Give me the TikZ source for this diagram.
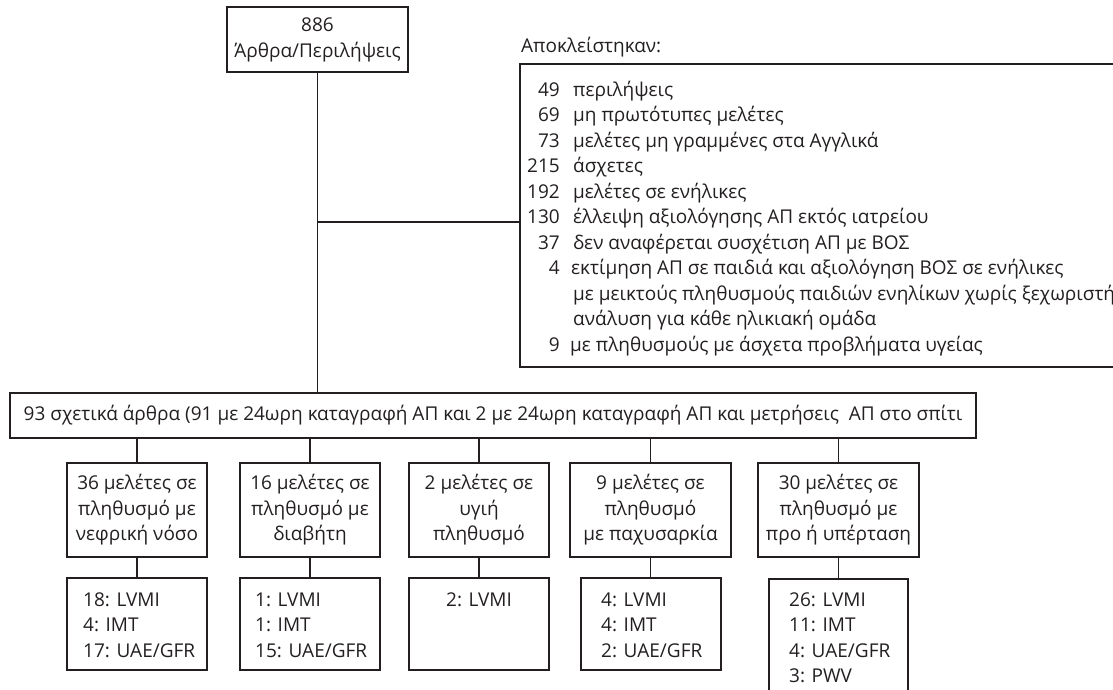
\documentclass[tikz,border=0pt]{standalone}
\usepackage{fontspec}
\setmainfont{Open Sans}
\definecolor{ink}{HTML}{231F20}
\newcommand\fsz{\fontsize{19}{25.5}\selectfont}
\begin{document}
\begin{tikzpicture}[x=1pt,y=-1pt,
  box/.style={draw=ink, line width=1.6pt, inner sep=0pt, text=ink, font=\fsz},
  conn/.style={draw=ink, line width=1.6pt},
  txt/.style={inner sep=0pt, text=ink, font=\fsz}]
\useasboundingbox (0,0) rectangle (1113,690);
\clip (0,0) rectangle (1113,690);
% top
\node[box, minimum width=181, minimum height=65] (top) at (317.5,39.5)
  {\begin{tabular}{@{}c@{}}886\\Άρθρα/Περιλήψεις\end{tabular}};
% exclusions
\node[txt, anchor=west] (exlab) at (521,47) {Αποκλείστηκαν:};
\node[box, anchor=north west, minimum width=620, minimum height=303] (excl) at (519,63) {};
\node[txt, anchor=north east] (exnum) at (560,78) {\begin{tabular}{@{}r@{}}
49\\69\\73\\215\\192\\130\\37\\4\\ \\ \\9\end{tabular}};
\node[txt, anchor=north west] (exlist) at (573,78) {\begin{tabular}{@{}l@{}}
περιλήψεις\\
μη πρωτότυπες μελέτες\\
μελέτες μη γραμμένες στα Αγγλικά\\
άσχετες\\
μελέτες σε ενήλικες\\
έλλειψη αξιολόγησης ΑΠ εκτός ιατρείου\\
δεν αναφέρεται συσχέτιση ΑΠ με ΒΟΣ\\
\hspace{-2pt}εκτίμηση ΑΠ σε παιδιά και αξιολόγηση ΒΟΣ σε ενήλικες\\
με μεικτούς πληθυσμούς παιδιών ενηλίκων χωρίς ξεχωριστή\\
ανάλυση για κάθε ηλικιακή ομάδα\\
\hspace{-3pt}με πληθυσμούς με άσχετα προβλήματα υγείας
\end{tabular}};
% main
\node[box, minimum width=966, minimum height=45] (main) at (493,415.5)
  {93 σχετικά άρθρα (91 με 24ωρη καταγραφή ΑΠ και 2 με 24ωρη καταγραφή ΑΠ και μετρήσεις\ \ ΑΠ στο σπίτι};
\coordinate (j) at (317.5,222);
\draw[conn] (top.south) -- (top.south |- main.north);
\draw[conn] (j) -- (j -| excl.west);
% row 1
\node[box, minimum width=140, minimum height=94] (b1) at (137,510)
  {\begin{tabular}{@{}c@{}}36 μελέτες σε\\πληθυσμό με\\νεφρική νόσο\end{tabular}};
\node[box, minimum width=140, minimum height=94] (b2) at (310,510)
  {\begin{tabular}{@{}c@{}}16 μελέτες σε\\πληθυσμό με\\διαβήτη\end{tabular}};
\node[box, minimum width=140, minimum height=94] (b3) at (479,510)
  {\begin{tabular}{@{}c@{}}2 μελέτες σε\\υγιή\\πληθυσμό\end{tabular}};
\node[box, minimum width=161, minimum height=94] (b4) at (650.5,510)
  {\begin{tabular}{@{}c@{}}9 μελέτες σε\\πληθυσμό\\με παχυσαρκία\end{tabular}};
\node[box, minimum width=161, minimum height=94] (b5) at (838.5,510)
  {\begin{tabular}{@{}c@{}}30 μελέτες σε\\πληθυσμό με\\προ ή υπέρταση\end{tabular}};
% row 2
\node[box, minimum width=140, minimum height=92] (c1) at (137,624) {};
\node[box, minimum width=140, minimum height=92] (c2) at (310,624) {};
\node[box, minimum width=140, minimum height=92] (c3) at (479,624) {};
\node[box, minimum width=140, minimum height=92] (c4) at (651,624) {};
\node[box, anchor=north, minimum width=139, minimum height=130] (c5) at (838.5,578) {};
\node[txt, anchor=base west] (t1) at (83,606) {\begin{tabular}[t]{@{}l@{}}18: LVMI\\4: IMT\\17: UAE/GFR\end{tabular}};
\node[txt, anchor=base west] (t2) at (255,606) {\begin{tabular}[t]{@{}l@{}}1: LVMI\\1: IMT\\15: UAE/GFR\end{tabular}};
\node[txt, anchor=base] (t3) at (479,606) {2: LVMI};
\node[txt, anchor=base west] (t4) at (601,606) {\begin{tabular}[t]{@{}l@{}}4: LVMI\\4: IMT\\2: UAE/GFR\end{tabular}};
\node[txt, anchor=base west] (t5) at (789,606) {\begin{tabular}[t]{@{}l@{}}26: LVMI\\11: IMT\\4: UAE/GFR\\3: PWV\end{tabular}};
% connectors
\foreach \b in {b1,b2,b3,b4,b5} \draw[conn] (\b.north |- main.south) -- (\b.north);
\draw[conn] (b1.south) -- (c1.north);
\draw[conn] (b2.south) -- (c2.north);
\draw[conn] (b3.south) -- (c3.north);
\draw[conn] (b4.south) -- (b4.south |- c4.north);
\draw[conn] (b5.south) -- (c5.north);
\end{tikzpicture}
\end{document}
